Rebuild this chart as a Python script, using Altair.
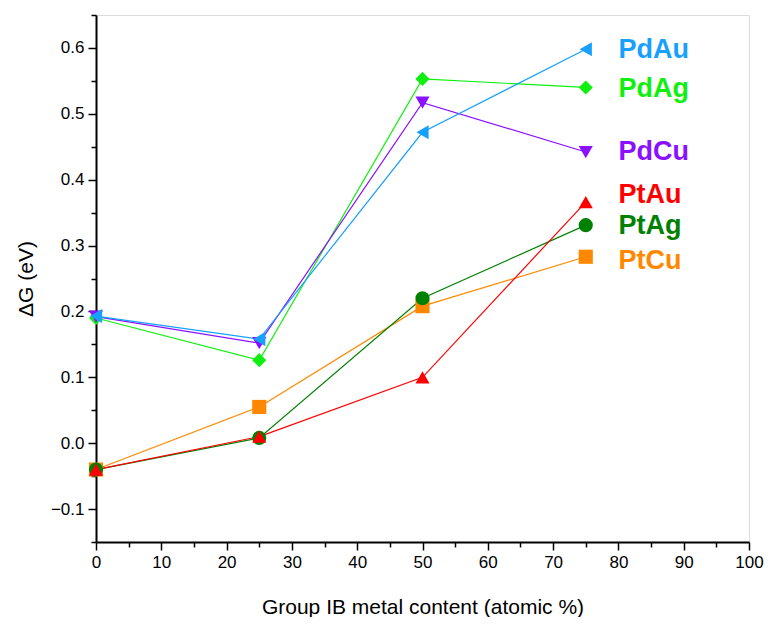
import altair as alt
import pandas as pd

x_vals = [0, 25, 50, 75]
series = ["PdAg", "PdCu", "PdAu", "PtCu", "PtAg", "PtAu"]
values = {
    "PdAu": [0.193, 0.158, 0.472, 0.598],
    "PdAg": [0.190, 0.126, 0.553, 0.540],
    "PdCu": [0.192, 0.152, 0.517, 0.442],
    "PtAu": [-0.040, 0.010, 0.100, 0.366],
    "PtAg": [-0.040, 0.008, 0.220, 0.331],
    "PtCu": [-0.040, 0.055, 0.208, 0.283],
}
colors = {
    "PdAu": "#18a0ff",
    "PdAg": "#10f010",
    "PdCu": "#8a10ff",
    "PtAu": "#ff0000",
    "PtAg": "#008000",
    "PtCu": "#ff8800",
}
shapes = {
    "PdAu": "triangle-left",
    "PdAg": "diamond",
    "PdCu": "triangle-down",
    "PtAu": "triangle-up",
    "PtAg": "circle",
    "PtCu": "square",
}
label_names = ["PdAu", "PdAg", "PdCu", "PtAu", "PtAg", "PtCu"]
label_x = [80, 80, 80, 80, 80, 80]
label_y = [0.597, 0.537, 0.442, 0.377, 0.329, 0.277]

x_major = [0, 10, 20, 30, 40, 50, 60, 70, 80, 90, 100]
x_minor = [5, 15, 25, 35, 45, 55, 65, 75, 85, 95]
y_major = [-0.1, 0.0, 0.1, 0.2, 0.3, 0.4, 0.5, 0.6]
y_minor = [-0.15, -0.05, 0.05, 0.15, 0.25, 0.35, 0.45, 0.55, 0.65]

rows = []
for s in series:
    for xv, yv in zip(x_vals, values[s]):
        rows.append({"series": s, "x": xv, "y": yv})
df = pd.DataFrame(rows)
labels_df = pd.DataFrame({"series": label_names, "x": label_x, "y": label_y})

color_scale = alt.Scale(domain=series, range=[colors[s] for s in series])
shape_scale = alt.Scale(domain=series, range=[shapes[s] for s in series])
xs = alt.Scale(domain=[0, 100], nice=False, zero=False)
ys = alt.Scale(domain=[-0.15, 0.65], nice=False, zero=False)

common = dict(grid=False, domainColor="black", domainWidth=2, tickColor="black",
              tickWidth=1.5, labelFlush=False, labelOverlap=False)

x_major_axis = alt.Axis(
    orient="bottom", values=x_major, tickSize=8,
    title="Group IB metal content (atomic %)",
    labelFontSize=17, labelColor="black", labelPadding=4,
    titleFontSize=21, titleFontWeight="normal", titleColor="black", titlePadding=26,
    **common,
)
y_major_axis = alt.Axis(
    orient="left", values=y_major, tickSize=8, format=".1f",
    title="ΔG (eV)",
    labelFontSize=17, labelColor="black", labelPadding=4,
    titleFontSize=21, titleFontWeight="normal", titleColor="black", titlePadding=14,
    **common,
)
x_minor_axis = alt.Axis(orient="bottom", values=x_minor, tickSize=5, labels=False,
                        title=None, domain=False, **common)
y_minor_axis = alt.Axis(orient="left", values=y_minor, tickSize=5, labels=False,
                        title=None, domain=False, **common)

base = alt.Chart(df)
lines = base.mark_line(strokeWidth=1.2).encode(
    x=alt.X("x:Q", scale=xs, axis=x_major_axis),
    y=alt.Y("y:Q", scale=ys, axis=y_major_axis),
    color=alt.Color("series:N", scale=color_scale, legend=None),
    detail="series:N",
    order="x:Q",
)
points = base.mark_point(filled=True, size=200, opacity=1).encode(
    x=alt.X("x:Q", scale=xs, axis=None),
    y=alt.Y("y:Q", scale=ys, axis=None),
    color=alt.Color("series:N", scale=color_scale, legend=None),
    shape=alt.Shape("series:N", scale=shape_scale, legend=None),
)
texts = alt.Chart(labels_df).mark_text(
    align="left", baseline="middle", fontSize=27, fontWeight="bold", font="Liberation Sans"
).encode(
    x=alt.X("x:Q", scale=xs, axis=x_minor_axis),
    y=alt.Y("y:Q", scale=ys, axis=y_minor_axis),
    text="series:N",
    color=alt.Color("series:N", scale=color_scale, legend=None),
)

chart = alt.layer(lines, points, texts).resolve_axis(
    x="independent", y="independent"
).properties(
    width=653, height=527,
    autosize=alt.AutoSizeParams(type="none"),
    padding={"left": 88, "top": 7, "right": 17, "bottom": 75},
).configure_view(
    stroke="black", strokeWidth=1.5
).configure(
    font="Liberation Sans"
).configure_axis(
    labelFont="Liberation Sans", titleFont="Liberation Sans"
)

chart.save("out.html", embed_options={"renderer": "svg", "actions": False})
